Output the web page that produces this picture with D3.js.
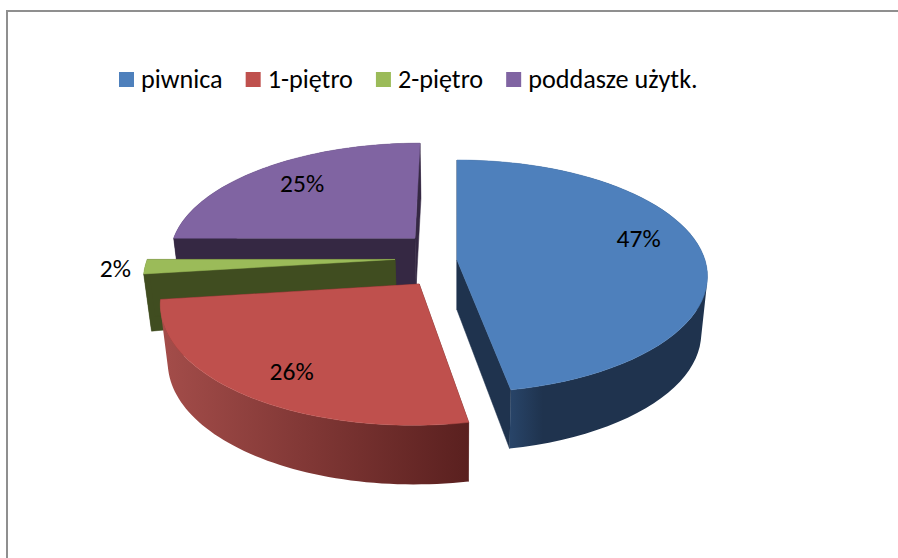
<!DOCTYPE html>
<html>
<head>
<meta charset="utf-8">
<script src="https://cdn.jsdelivr.net/npm/d3@7"></script>
<style>
html,body{margin:0;padding:0;background:#fff;overflow:hidden}
svg{display:block}
text{font-family:Carlito,Lato,"Open Sans",sans-serif;fill:#000}
</style>
</head>
<body>
<svg id="chart" width="898" height="558"></svg>
<script>
// data
const categories = ["piwnica", "1-piętro", "2-piętro", "poddasze użytk."];
const values = [47, 26, 2, 25];
const labels = ["47%", "26%", "2%", "25%"];

// look
const topColors = ["#4e80bc", "#bf504d", "#9bbb59", "#8064a2"];
const sideColors = ["#1f334e", "#5a201f", "#404d20", "#352843"];
const wallStart = ["#284468", "#a44d4a", "#404d20", "#352843"];

// projection: a disc of radius R seen in perspective
const vx = 457, y0 = 260, R = 248, persp = 0.14, tilt = 114;
const depthCentre = 50, depthRim = 57, bottomTilt = 115.5, bottomShrink = 0.975;
// exploded offset of each slice on the disc plane, in radii
const shiftX = [0, -0.148, -0.25, -0.174];
const shiftZ = [0, -0.205, 0.005, 0.197];
const labelRadius = [0.78, 0.78, 1.117, 0.78];
const labelNudge = [[-9, -14], [5, 3], [0, 1], [8, 0]];

function project(i, a, r, bottom) {
  const X = shiftX[i] + r * Math.sin(a);
  const Z = shiftZ[i] + r * Math.cos(a);
  const w = 1 + persp * Z;
  const px = R * X / w;
  if (!bottom) return [vx + px, y0 - tilt * Z / w];
  const depth = depthCentre + (depthRim - depthCentre) * r;
  return [vx + px * bottomShrink, y0 + depth - bottomTilt * Z / w];
}

const svg = d3.select("#chart");
const color = d3.scaleOrdinal().domain(categories).range(topColors);
const side = d3.scaleOrdinal().domain(categories).range(sideColors);
const start = d3.scaleOrdinal().domain(categories).range(wallStart);
const line = d3.line();
const pie = d3.pie().sort(null).value(d => d.value);
const rows = categories.map((c, i) => ({ c, value: values[i], label: labels[i], i }));
const arcs = pie(rows);

// frame
svg.append("path")
  .attr("d", "M7,558V11H898")
  .attr("fill", "none")
  .attr("stroke", "#8f8f8f")
  .attr("stroke-width", 2);

const defs = svg.append("defs");
const slices = [3, 2, 1, 0].map(k => arcs[k]);

slices.forEach(s => {
  const i = s.data.i, name = s.data.c;
  const g = svg.append("g");
  const steps = d3.range(0, 61).map(t => s.startAngle + (s.endAngle - s.startAngle) * t / 60);
  const rimTop = steps.map(a => project(i, a, 1, false));
  const rimBot = steps.map(a => project(i, a, 1, true));

  const xs = rimTop.map(p => p[0]);
  const frontXs = steps.filter(a => Math.cos(a) < 0.1).map(a => project(i, a, 1, false)[0]);
  const id = "wall" + i;
  const grad = defs.append("linearGradient").attr("id", id)
    .attr("gradientUnits", "userSpaceOnUse")
    .attr("x1", i === 0 ? d3.min(frontXs) : d3.min(xs))
    .attr("x2", i === 0 ? d3.min(frontXs) + 32 : d3.max(xs))
    .attr("y1", 0).attr("y2", 0);
  grad.append("stop").attr("offset", 0).attr("stop-color", start(name));
  grad.append("stop").attr("offset", 1).attr("stop-color", side(name));

  // side walls
  [s.startAngle, s.endAngle].forEach(a => {
    const q = [
      project(i, 0, 0, false), project(i, a, 1, false),
      project(i, a, 1, true), project(i, 0, 0, true)
    ];
    g.append("path").attr("d", line(q) + "Z")
      .attr("fill", side(name)).attr("stroke", side(name)).attr("stroke-width", 0.5);
  });
  // outer wall: every facet in one path with the same winding, so no seams show
  const facets = d3.pairs(d3.range(steps.length)).map(([p, q]) => {
    const quad = [rimTop[p], rimTop[q], rimBot[q], rimBot[p]];
    return line(d3.polygonArea(quad) < 0 ? quad.slice().reverse() : quad) + "Z";
  }).join("");
  g.append("path").attr("d", facets).attr("fill", "url(#" + id + ")").attr("fill-rule", "nonzero");
  // top face
  const topFace = [project(i, 0, 0, false)].concat(rimTop);
  g.append("path").attr("d", line(topFace) + "Z")
    .attr("fill", color(name)).attr("stroke", color(name)).attr("stroke-width", 0.5);
});

// percentage labels
svg.append("g").selectAll("text").data(arcs).join("text")
  .attr("text-anchor", "middle")
  .attr("font-size", 25.5)
  .attr("x", d => project(d.data.i, (d.startAngle + d.endAngle) / 2, labelRadius[d.data.i], false)[0] + labelNudge[d.data.i][0])
  .attr("y", d => project(d.data.i, (d.startAngle + d.endAngle) / 2, labelRadius[d.data.i], false)[1] + labelNudge[d.data.i][1] + 9)
  .text(d => d.data.label);

// legend
const legend = svg.append("g");
let cursor = 119;
rows.forEach(r => {
  legend.append("rect").attr("x", cursor).attr("y", 72).attr("width", 15).attr("height", 15)
    .attr("fill", color(r.c));
  const t = legend.append("text").attr("x", cursor + 22).attr("y", 88)
    .attr("font-size", 26.2).text(r.c);
  cursor += 22 + t.node().getComputedTextLength() + 23;
});
</script>
</body>
</html>
